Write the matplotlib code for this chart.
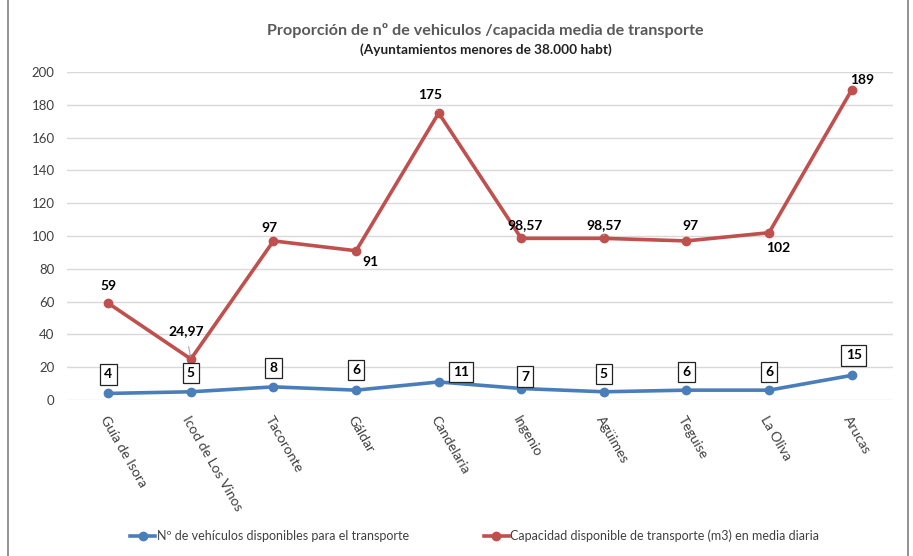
import matplotlib.pyplot as plt
from matplotlib.patches import Rectangle

plt.rcParams["font.family"] = ["Lato", "DejaVu Sans"]

municipios = ["Guía de Isora", "Icod de Los Vinos", "Tacoronte", "Gáldar", "Candelaria",
              "Ingenio", "Agüimes", "Teguise", "La Oliva", "Arucas"]
vehiculos = [4, 5, 8, 6, 11, 7, 5, 6, 6, 15]
capacidad = [59, 24.97, 97, 91, 175, 98.57, 98.57, 97, 102, 189]
cap_labels = ["59", "24,97", "97", "91", "175", "98,57", "98,57", "97", "102", "189"]
veh_labels = [str(v) for v in vehiculos]

# label offsets in pixels (dx, dy) and whether a leader line is drawn
veh_off = [(0, 19), (0, 19), (0, 19), (0, 20), (22, 10), (4, 12), (0, 18), (0, 18), (0, 18), (2, 20)]
cap_off = [(0, 17), (-5, 28), (-4, 13), (14, -11), (-9, 18), (4, 13), (0, 13), (4, 15), (9, -15), (11, 10)]
cap_leader = [False, True, False, False, True, False, True, False, False, False]

BLUE = "#4a7ebb"
RED = "#c0504d"

fig = plt.figure(figsize=(9.13, 5.56), dpi=100)
ax = fig.add_axes([0.0734, 0.2806, 0.9046, 0.5899])

x = list(range(len(municipios)))
ax.plot(x, vehiculos, color=BLUE, lw=2.6, marker="o", ms=6, label="Nº de vehículos disponibles para el transporte")
ax.plot(x, capacidad, color=RED, lw=2.6, marker="o", ms=6, label="Capacidad disponible de transporte (m3) en media diaria")

for i, (v, lab) in enumerate(zip(vehiculos, veh_labels)):
    dx, dy = veh_off[i]
    ax.annotate(lab, (i, v), xytext=(dx, dy), textcoords="offset pixels",
                ha="center", va="center", fontsize=10, fontweight="bold",
                bbox=dict(boxstyle="square,pad=0.3", fc="white", ec="#222222", lw=0.9))

for i, (v, lab) in enumerate(zip(capacidad, cap_labels)):
    dx, dy = cap_off[i]
    arrow = dict(arrowstyle="-", color="#a6a6a6", lw=0.8, shrinkA=5, shrinkB=2) if cap_leader[i] else None
    ax.annotate(lab, (i, v), xytext=(dx, dy), textcoords="offset pixels",
                ha="center", va="center", fontsize=10, fontweight="bold",
                arrowprops=arrow)

ax.set_xlim(-0.5, len(municipios) - 0.5)
ax.set_ylim(0, 200)
ax.set_yticks(range(0, 201, 20))
ax.yaxis.grid(True, color="#d9d9d9", lw=1)
ax.set_axisbelow(True)
for s in ax.spines.values():
    s.set_visible(False)
ax.tick_params(axis="both", length=0, labelsize=9.5, labelcolor="#404040")
ax.tick_params(axis="y", pad=9)
ax.set_xticks(x)
ax.set_xticklabels(municipios, rotation=-60, ha="left", va="top", rotation_mode="anchor", fontsize=10)
ax.tick_params(axis="x", pad=10)

fig.text(0.532, 0.946, "Proporción de nº de vehiculos /capacida media de transporte",
         ha="center", va="center", fontsize=11.6, fontweight="bold", color="#595959")
fig.text(0.532, 0.911, "(Ayuntamientos menores de 38.000 habt)",
         ha="center", va="center", fontsize=9.8, fontweight="bold", color="#222222")

fig.legend(loc="center", bbox_to_anchor=(0.52, 0.036), ncol=2, frameon=False,
           fontsize=9, columnspacing=6, handlelength=2.0, handletextpad=0.1,
           labelcolor="#404040")

fig.patches.append(Rectangle((0.009, -0.01), 0.985, 1.03, transform=fig.transFigure,
                             fill=False, ec="#7f7f7f", lw=1.2))

fig.savefig("out.png", dpi=100)
